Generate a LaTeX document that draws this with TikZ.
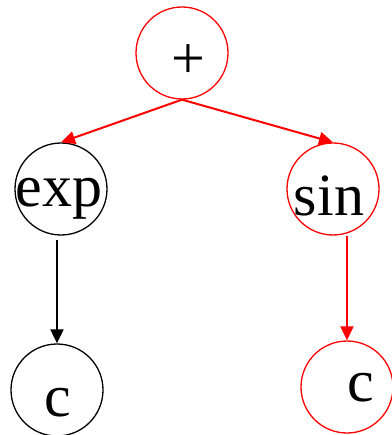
\documentclass[tikz,border=0pt]{standalone}
\usepackage{fontspec}
\setmainfont{Liberation Serif}
\usetikzlibrary{arrows.meta}
\begin{document}
\begin{tikzpicture}[x=1pt,y=-1pt,
  nd/.style={circle,draw,line width=1.3pt,minimum size=92pt,inner sep=0pt},
  lbl/.style={anchor=base,inner sep=0pt,font=\fontsize{60}{60}\selectfont},
  edge/.style={line width=2pt,-{Triangle[length=14pt,width=13pt]}}]
\useasboundingbox (0,0) rectangle (391,435);
\node[nd,red] (plus) at (182,53) {};
\node[nd] (exp) at (61,189) {};
\node[nd,red] (sin) at (333,189) {};
\node[nd] (c1) at (57,390) {};
\node[nd,red] (c2) at (347,387) {};
\node[lbl] (tplus) at (188,79) {+};
\node[lbl] (texp) at (59,207) {exp};
\node[lbl] (tsin) at (329,215) {sin};
\node[lbl] (tc1) at (58,416) {c};
\node[lbl] (tc2) at (361,401) {c};
\draw[edge,red] (plus.south) -- (exp.north);
\draw[edge,red] (plus.south) -- (sin.north);
\draw[edge,shorten <=4pt] (exp.south -| c1.north) -- (c1.north);
\draw[edge,red] (sin.south -| c2.north) -- (c2.north);
\end{tikzpicture}
\end{document}
